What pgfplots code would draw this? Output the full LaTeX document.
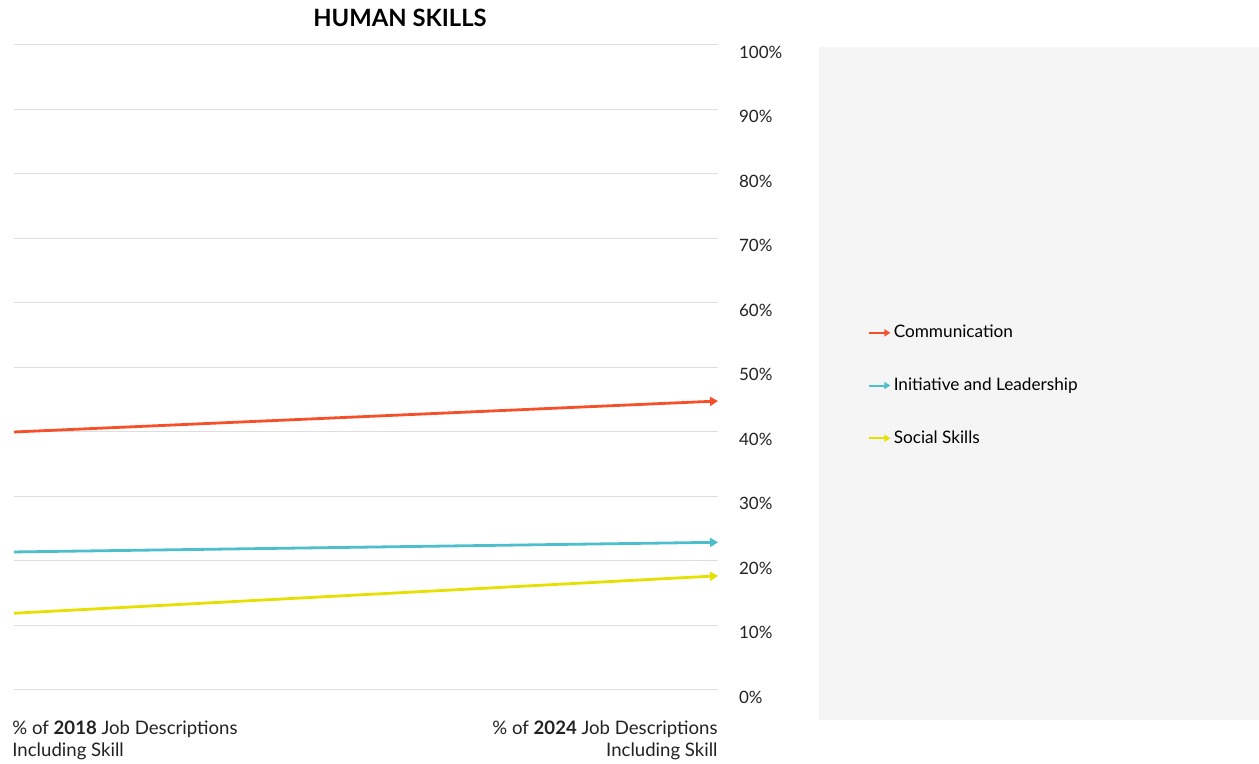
\documentclass[border=0pt]{standalone}
\usepackage{fontspec}
\setmainfont{Lato}
\usepackage{pgfplots}
\pgfplotsset{compat=1.18}
\usetikzlibrary{arrows.meta}
\definecolor{comm}{HTML}{F5502A}
\definecolor{lead}{HTML}{4DBFCC}
\definecolor{social}{HTML}{E6E000}
\definecolor{panel}{HTML}{F5F5F5}
\definecolor{gridc}{HTML}{DEDEDE}
\definecolor{txt}{HTML}{222222}

\begin{document}
\begin{tikzpicture}
  \path[use as bounding box] (0,0) rectangle (629.5pt,382pt);
  \fill[panel] (409.5pt,22pt) rectangle (629.5pt,358.5pt);
  \begin{axis}[
      at={(7pt,37pt)}, anchor=south west, scale only axis,
      width=352pt, height=322.5pt,
      xmin=0, xmax=1, ymin=0, ymax=100,
      axis line style={draw=none},
      major tick length=0pt,
      xtick=\empty,
      ytick={0,10,...,100},
      yticklabel pos=right,
      yticklabel={\pgfmathprintnumber{\tick}\%},
      /pgf/number format/assume math mode=true,
      yticklabel style={anchor=west, xshift=7pt, yshift=-3.5pt,
        font=\fontsize{8.5}{10}\selectfont, text=txt},
      ymajorgrids, grid style={gridc, line width=0.5pt},
      clip=false,
      legend cell align=left,
      legend style={at={(1.213,0.472)}, anchor=west, draw=none, fill=none,
        inner sep=0pt, row sep=16.1pt,
        font=\fontsize{8.6}{10}\selectfont, text=black,
        nodes={inner sep=1.2pt}},
      legend image code/.code={\draw[#1, line width=1pt, -{Triangle[length=3pt,width=3.5pt]}] (0pt,0pt) -- (10.5pt,0pt);},
    ]
    \addplot[comm, line width=1.4pt, -{Triangle[length=4pt,width=4.5pt]}] coordinates {(0,40.0) (1,44.8)};
    \addlegendentry{Communication}
    \addplot[lead, line width=1.4pt, -{Triangle[length=4pt,width=4.5pt]}] coordinates {(0,21.4) (1,22.9)};
    \addlegendentry{Initiative and Leadership}
    \addplot[social, line width=1.4pt, -{Triangle[length=4pt,width=4.5pt]}] coordinates {(0,11.9) (1,17.7)};
    \addlegendentry{Social Skills}
  \end{axis}
  \node[font=\bfseries\fontsize{11.9}{14}\selectfont, text=black] at (200pt,373pt) {HUMAN SKILLS};
  \node[anchor=north west, align=left, inner sep=0pt, text=txt,
    font=\fontsize{9.3}{11}\selectfont] at (6pt,22pt)
    {\% of \textbf{2018} Job Descriptions\\Including Skill};
  \node[anchor=north east, align=right, inner sep=0pt, text=txt,
    font=\fontsize{9.3}{11}\selectfont] at (359pt,22pt)
    {\% of \textbf{2024} Job Descriptions\\Including Skill};
\end{tikzpicture}
\end{document}
